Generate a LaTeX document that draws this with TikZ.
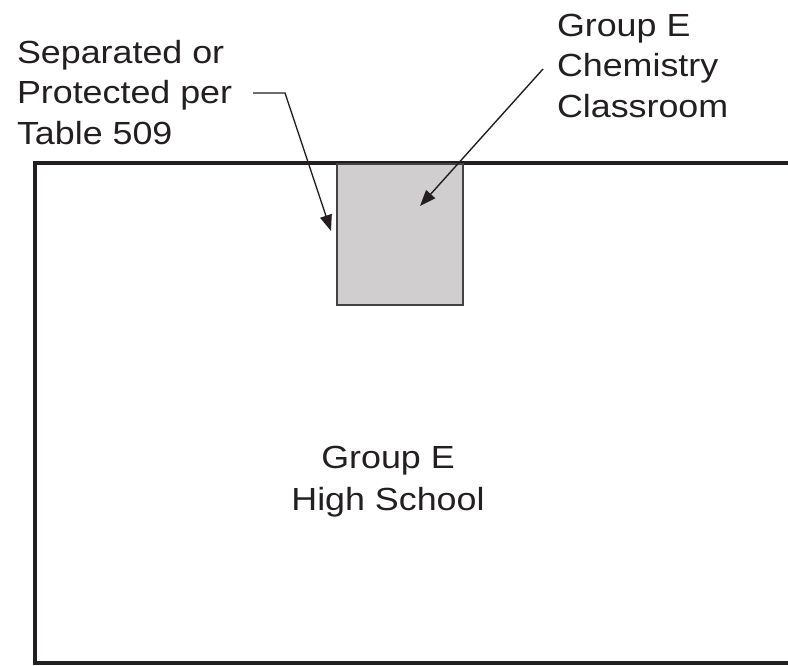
\documentclass[tikz,border=0pt]{standalone}
\usepackage{fontspec}
\setmainfont[FakeStretch=1.12]{Liberation Sans}
\usetikzlibrary{arrows.meta}
\definecolor{roomgray}{RGB}{208,206,206}
\definecolor{inkblack}{RGB}{35,31,32}
\tikzset{
  wall/.style={draw=inkblack, line width=3.8pt},
  room/.style={draw=inkblack!85, line width=1.8pt, fill=roomgray},
  label/.style={inner sep=0pt, outer sep=0pt, text=inkblack, font=\fontsize{32}{40.5}\selectfont},
  leader/.style={draw=inkblack, line width=1.4pt, -{Triangle[length=16pt,width=12pt]}}
}
\begin{document}
\begin{tikzpicture}[x=1pt,y=-1pt]
\useasboundingbox (0,0) rectangle (788,665);
% building outline
\draw[wall] (790,163) -- (35,163) -- (35,663) -- (790,663);
% chemistry classroom
\node[room, minimum width=126pt, minimum height=141pt, anchor=north west, inner sep=0pt] (chem) at (336,163) {};
% labels
\node[label, align=left, anchor=north west] (sep) at (17,40) {Separated or\\Protected per\\Table 509};
\node[label, align=left, anchor=north west] (grpchem) at (557,14) {Group E\\Chemistry\\Classroom};
\node[label, align=center, anchor=north, font=\fontsize{32}{42}\selectfont] (school) at (388,446) {Group E\\High School};
% leaders
\coordinate (s0) at (253,93);
\coordinate (s1) at (285,93);
\coordinate (s2) at (331,231);
\coordinate (c0) at (543,69);
\coordinate (c1) at (420,206);
\draw[leader] (s0) -- (s1) -- (s2);
\draw[leader] (c0) -- (c1);
\end{tikzpicture}
\end{document}
